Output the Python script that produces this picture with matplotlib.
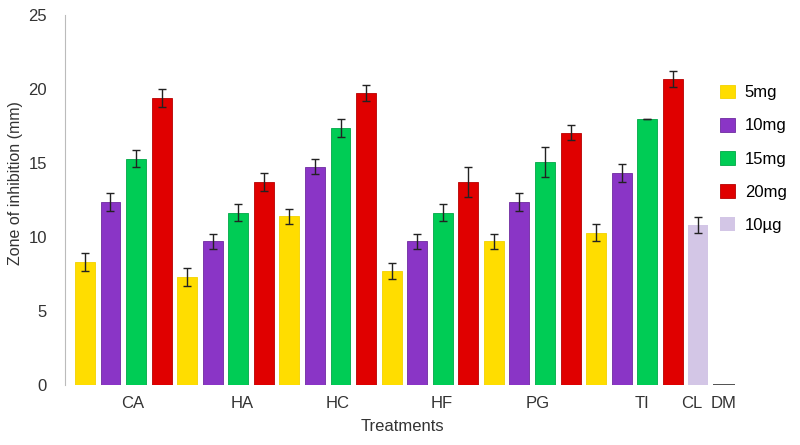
import matplotlib.pyplot as plt
import numpy as np

plt.rcParams['font.family'] = ['Liberation Sans', 'DejaVu Sans']

# treatments, 4 doses each
treatments = ['CA', 'HA', 'HC', 'HF', 'PG', 'TI']
doses = ['5mg', '10mg', '15mg', '20mg']
mg5 = [8.3, 7.3, 11.4, 7.7, 9.7, 10.3]
mg10 = [12.35, 9.7, 14.75, 9.7, 12.35, 14.35]
mg15 = [15.3, 11.65, 17.35, 11.65, 15.05, 18.0]
mg20 = [19.4, 13.7, 19.75, 13.7, 17.05, 20.7]
err5 = [0.6, 0.6, 0.5, 0.55, 0.5, 0.6]
err10 = [0.6, 0.5, 0.5, 0.5, 0.6, 0.6]
err15 = [0.6, 0.6, 0.6, 0.6, 1.0, 0.0]
err20 = [0.6, 0.6, 0.55, 1.0, 0.5, 0.55]

# controls
cl_val = 10.8
cl_err = 0.55
dm_val = 0.0

# tick label positions (in bar units, as placed in the original)
tick_pos = [1.88, 6.14, 9.9, 13.97, 17.7, 21.8, 23.75, 25.0]
tick_labels = ['CA', 'HA', 'HC', 'HF', 'PG', 'TI', 'CL', 'DM']

colors = ['#FFDD00', '#8A35C6', '#00CC55', '#E00000']
edges = ['#F2D200', '#6E2AA0', '#00A846', '#B80000']
cl_color = '#D3C6E6'

fig = plt.figure(figsize=(8, 4.45), dpi=100)
ax = fig.add_axes([65/800, 1-385/445, (740-65)/800, 370/445])

vals = [mg5, mg10, mg15, mg20]
errs = [err5, err10, err15, err20]
for d in range(4):
    x = np.arange(len(treatments))*4 + d
    ax.bar(x, vals[d], width=0.78, color=colors[d], label=doses[d],
           edgecolor=edges[d], linewidth=0.6)
    ax.errorbar(x, vals[d], yerr=errs[d], fmt='none', ecolor='#222222',
                elinewidth=1, capsize=3, capthick=1)

ax.bar([24], [cl_val], width=0.78, color=cl_color, label='10\u00b5g')
ax.errorbar([24], [cl_val], yerr=[cl_err], fmt='none', ecolor='#222222',
            elinewidth=1, capsize=3, capthick=1)
ax.bar([25], [dm_val], width=0.85, color='#333333', edgecolor='#333333',
       linewidth=1.2)

ax.set_xlim(-0.78, 25.63)
ax.set_ylim(0, 25)
ax.set_yticks([0, 5, 10, 15, 20, 25])
ax.set_xticks(tick_pos)
ax.set_xticklabels(tick_labels)
ax.tick_params(axis='both', length=0, labelsize=12, colors='#333333', pad=8)
ax.tick_params(axis='y', pad=13)
for s in ['top', 'right', 'bottom']:
    ax.spines[s].set_visible(False)
ax.spines['left'].set_color('#BBBBBB')

ax.set_xlabel('Treatments', fontsize=12, color='#333333', labelpad=6)
ax.set_ylabel('Zone of inhibition (mm)', fontsize=11.5, color='#333333')
ax.yaxis.set_label_coords(-0.062, 0.546)

ax.legend(loc='upper left', bbox_to_anchor=(0.96, 0.83), frameon=False,
          fontsize=12, handlelength=0.9, handleheight=0.9, labelspacing=1.05,
          handletextpad=0.6, borderaxespad=0)

fig.savefig('out.png', dpi=100)
